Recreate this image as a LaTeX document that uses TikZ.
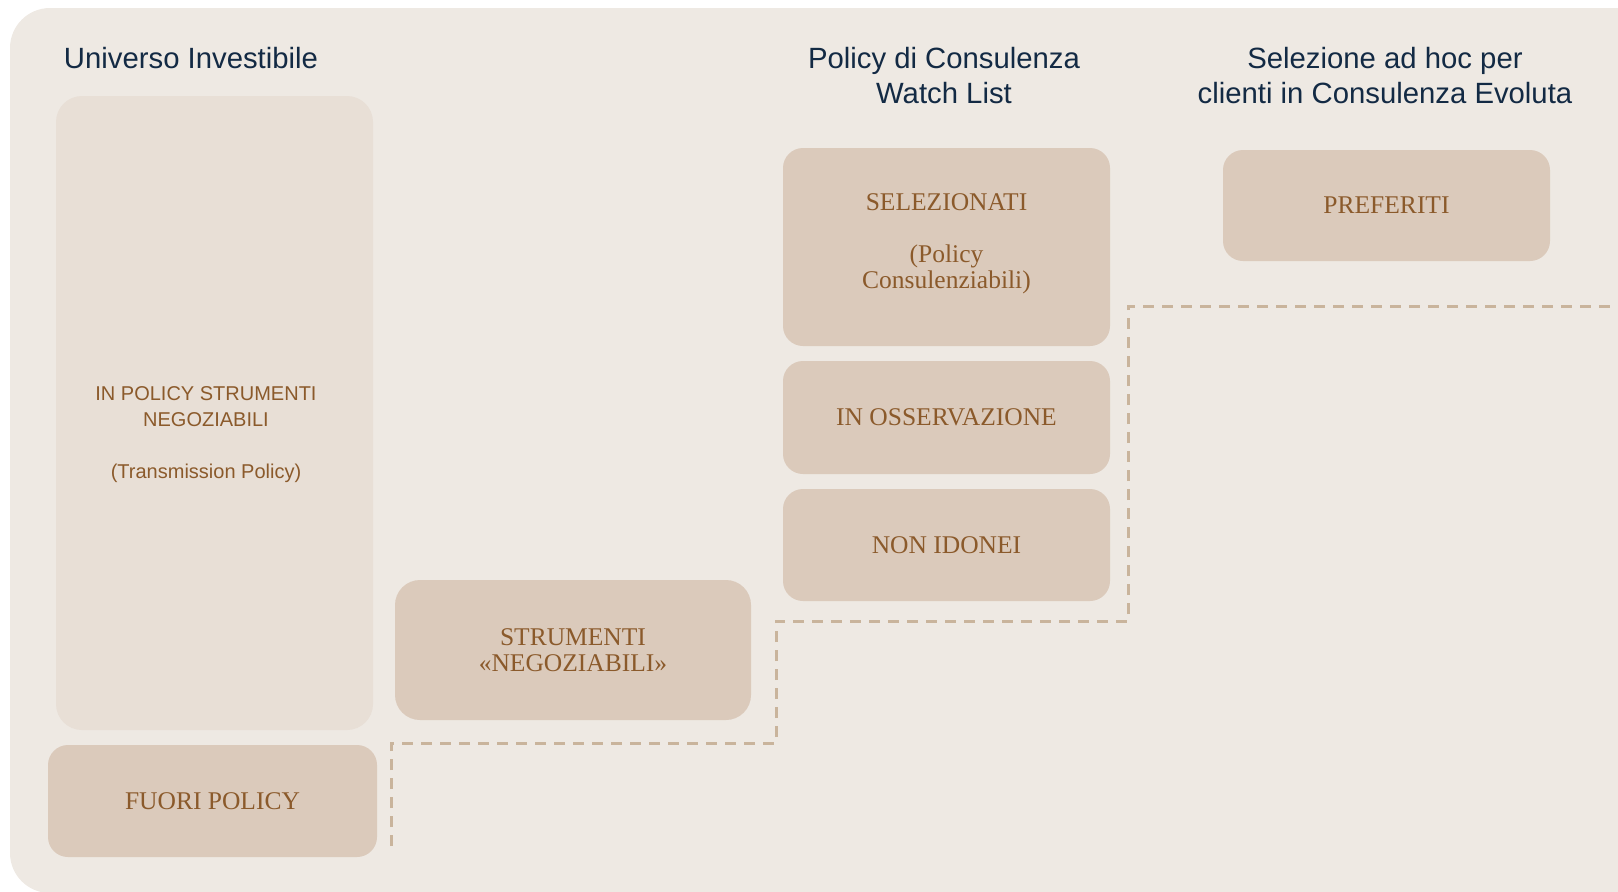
\documentclass[tikz,border=0pt]{standalone}
\usepackage{fontspec}
\setmainfont{Liberation Serif}
\newfontfamily\titlefont{Liberation Sans}
\definecolor{bgcol}{HTML}{EEE9E3}
\definecolor{lightbox}{HTML}{E8DFD6}
\definecolor{darkbox}{HTML}{DBCABB}
\definecolor{browntext}{HTML}{8B5A2B}
\definecolor{navytext}{HTML}{132A44}
\definecolor{dashcol}{HTML}{C9B49C}
\tikzset{
  boxbase/.style={rectangle, rounded corners=20pt, inner sep=0pt, draw=none, align=center, text=browntext},
  darkbx/.style={boxbase, fill=darkbox, font=\fontsize{25.5}{26}\selectfont},
  lightbx/.style={boxbase, fill=lightbox, rounded corners=26pt},
  sanslabel/.style={inner sep=0pt, align=center, text=browntext, font=\titlefont\fontsize{20}{26}\selectfont},
  titletext/.style={inner sep=0pt, align=center, text=navytext, font=\titlefont\fontsize{29.3}{35}\selectfont},
  dashline/.style={draw=dashcol, line width=3pt, dash pattern=on 11pt off 8pt}
}
\begin{document}
\begin{tikzpicture}[x=1pt,y=-1pt]
\useasboundingbox (0,0) rectangle (1618,892);
\fill[bgcol, rounded corners=40pt] (10,8) rectangle (1700,893);

\node[titletext] (t1) at (191,58) {Universo Investibile};
\node[titletext] (t2) at (944,76) {Policy di Consulenza\\Watch List};
\node[titletext] (t3) at (1385,76) {Selezione ad hoc per\\clienti in Consulenza Evoluta};

\node[lightbx, minimum width=317pt, minimum height=634pt] (big) at (214.5,413) {};
\node[sanslabel] (bigtext) at (206,434.5)
  {IN POLICY STRUMENTI\\NEGOZIABILI\\[26pt](Transmission Policy)};
\node[darkbx, minimum width=329pt, minimum height=112pt] (fuori) at (212.5,801) {FUORI POLICY};
\node[darkbx, rounded corners=25pt, minimum width=356pt, minimum height=140pt] (strum) at (573,650)
  {STRUMENTI\\«NEGOZIABILI»};
\node[darkbx, minimum width=327pt, minimum height=198pt] (selez) at (946.5,247) {};
\node[darkbx, inner sep=0pt, fill=none] (seleztext) at (946.5,244)
  {SELEZIONATI\\[26pt](Policy\\Consulenziabili)};
\node[darkbx, minimum width=327pt, minimum height=113pt] (osserv) at (946.5,417.5) {IN OSSERVAZIONE};
\node[darkbx, minimum width=327pt, minimum height=112pt] (nonid) at (946.5,545) {NON IDONEI};
\node[darkbx, minimum width=327pt, minimum height=111pt] (pref) at (1386.5,205.5) {PREFERITI};

\coordinate (d0) at (391,846);
\coordinate (d1) at (391,743);
\coordinate (d2) at (776,743);
\coordinate (d3) at (776,621);
\coordinate (d4) at (1128,621);
\coordinate (d5) at (1128,306);
\coordinate (d6) at (1620,306);
\draw[dashline] (d0) -- (d1) -- (d2) -- (d3) -- (d4) -- (d5) -- (d6);
\end{tikzpicture}
\end{document}
